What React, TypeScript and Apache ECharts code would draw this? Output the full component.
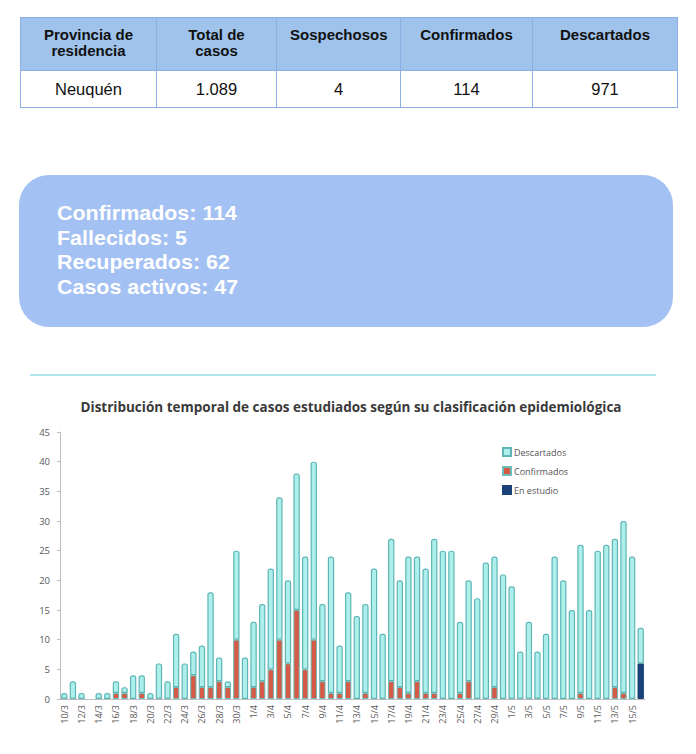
import React, { useEffect, useRef } from "react";
import * as echarts from "echarts";

const tableHeaders = ["Provincia de residencia", "Total de casos", "Sospechosos", "Confirmados", "Descartados"];
const tableRow = ["Neuquén", "1.089", "4", "114", "971"];
const summaryLines = ["Confirmados: 114", "Fallecidos: 5", "Recuperados: 62", "Casos activos: 47"];

const dates = [
  "10/3","11/3","12/3","13/3","14/3","15/3","16/3","17/3","18/3","19/3","20/3","21/3","22/3","23/3","24/3","25/3","26/3","27/3","28/3","29/3","30/3","31/3",
  "1/4","2/4","3/4","4/4","5/4","6/4","7/4","8/4","9/4","10/4","11/4","12/4","13/4","14/4","15/4","16/4","17/4","18/4","19/4","20/4","21/4","22/4","23/4","24/4","25/4","26/4","27/4","28/4","29/4","30/4",
  "1/5","2/5","3/5","4/5","5/5","6/5","7/5","8/5","9/5","10/5","11/5","12/5","13/5","14/5","15/5","16/5"
];
// totals per day (top of each bar)
const totals = [
  1,3,1,0,1,1,3,2,4,4,1,6,3,11,6,8,9,18,7,3,25,7,
  13,16,22,34,20,38,24,40,16,24,9,18,14,16,22,11,27,20,24,24,22,27,25,25,13,20,17,23,24,21,
  19,8,13,8,11,24,20,15,26,15,25,26,27,30,24,12
];
const confirmados = [
  0,0,0,0,0,0,1,1,0,1,0,0,0,2,0,4,2,2,3,2,10,0,
  2,3,5,10,6,15,5,10,3,1,1,3,0,1,0,0,3,2,1,3,1,1,0,0,1,3,0,0,2,0,
  0,0,0,0,0,0,0,0,1,0,0,0,2,1,0,0
];
const enEstudio = [
  0,0,0,0,0,0,0,0,0,0,0,0,0,0,0,0,0,0,0,0,0,0,
  0,0,0,0,0,0,0,0,0,0,0,0,0,0,0,0,0,0,0,0,0,0,0,0,0,0,0,0,0,0,
  0,0,0,0,0,0,0,0,0,0,0,0,0,0,0,6
];
const descartados = totals.map((t, i) => t - confirmados[i] - enEstudio[i]);
const yTicks = { min: 0, max: 45, interval: 5 };

const hideZero = (arr: number[]) => arr.map((v) => (v === 0 ? "-" : v));

const ChartPart: React.FC = () => {
  const ref = useRef<HTMLDivElement>(null);
  useEffect(() => {
    if (!ref.current) return;
    const chart = echarts.init(ref.current, undefined, { renderer: "svg" });
    chart.setOption({
      animation: false,
      backgroundColor: "transparent",
      title: {
        text: "Distribución temporal de casos estudiados según su clasificación epidemiológica",
        left: 346,
        textAlign: "center",
        top: 35,
        textStyle: { fontFamily: "Open Sans", fontWeight: "bold", fontSize: 13.5, color: "#3a3a3a" },
      },
      graphic: [
        {
          type: "line",
          shape: { x1: 30, y1: 15, x2: 656, y2: 15 },
          style: { stroke: "#aee4ea", lineWidth: 2 },
        },
      ],
      legend: {
        orient: "vertical",
        left: 497,
        top: 82,
        itemWidth: 8,
        itemHeight: 8,
        itemGap: 9,
        icon: "rect",
        data: ["Descartados", "Confirmados", "En estudio"],
        textStyle: { fontFamily: "Open Sans", fontSize: 9, color: "#555", padding: [0, 0, 0, -2] },
      },
      grid: { left: 60, right: 51, top: 72, bottom: 55 },
      xAxis: {
        type: "category",
        data: dates,
        axisLine: { lineStyle: { color: "#bfbfbf" } },
        axisTick: { show: false },
        axisLabel: { rotate: 90, interval: 1, fontSize: 9, color: "#595959", fontFamily: "Open Sans", margin: 6 },
      },
      yAxis: {
        type: "value",
        min: yTicks.min,
        max: yTicks.max,
        interval: yTicks.interval,
        axisLine: { show: true, lineStyle: { color: "#bfbfbf" } },
        axisTick: { show: true, length: 3, lineStyle: { color: "#bfbfbf" } },
        splitLine: { show: false },
        axisLabel: { fontSize: 9.5, color: "#595959", fontFamily: "Open Sans", margin: 10 },
      },
      series: [
        {
          name: "Confirmados",
          type: "bar",
          stack: "t",
          barWidth: "74%",
          data: hideZero(confirmados),
          itemStyle: { color: "#d65a45", borderColor: "#6bbdbb", borderWidth: 1 },
        },
        {
          name: "En estudio",
          type: "bar",
          stack: "t",
          data: hideZero(enEstudio),
          itemStyle: { color: "#1a4178", borderColor: "#1a4178", borderWidth: 1 },
        },
        {
          name: "Descartados",
          type: "bar",
          stack: "t",
          data: hideZero(descartados),
          itemStyle: { color: "#adf0eb", borderColor: "#5fb5b6", borderWidth: 1.2, borderRadius: [2, 2, 0, 0] },
        },
      ],
    });
    return () => chart.dispose();
  }, []);
  return <div ref={ref} style={{ position: "absolute", left: 0, top: 360, width: 696, height: 394 }} />;
};

const App: React.FC = () => {
  const colW = [136, 120, 124, 132, 145];
  const border = "1.5px solid #8eaee6";
  return (
    <div style={{ position: "absolute", left: 0, top: 0, width: 696, height: 754, background: "#fff", fontFamily: "'Liberation Sans', Arial, sans-serif", overflow: "hidden" }}>
      <table
        style={{ position: "absolute", left: 20, top: 17, width: 657, borderCollapse: "collapse", tableLayout: "fixed" }}
      >
        <colgroup>
          {colW.map((w, i) => (
            <col key={i} style={{ width: w }} />
          ))}
        </colgroup>
        <tbody>
          <tr style={{ height: 53 }}>
            {tableHeaders.map((h, i) => (
              <td
                key={i}
                style={{ border, background: "#9fc3ea", fontWeight: "bold", fontSize: 15, textAlign: "center", verticalAlign: "top", padding: "9px 13px 0 13px", lineHeight: "16px", color: "#111" }}
              >
                {h}
              </td>
            ))}
          </tr>
          <tr style={{ height: 37 }}>
            {tableRow.map((c, i) => (
              <td key={i} style={{ border, fontSize: 16.5, textAlign: "center", verticalAlign: "middle", padding: 0, color: "#111" }}>
                {c}
              </td>
            ))}
          </tr>
        </tbody>
      </table>
      <div
        style={{ position: "absolute", left: 19, top: 175, width: 654, height: 152, background: "#a3c1f2", borderRadius: 30 }}
      >
        <div style={{ position: "absolute", left: 38, top: 26, color: "#fff", fontWeight: "bold", fontSize: 19.5, lineHeight: "24.5px", transform: "scaleX(1.1)", transformOrigin: "left top" }}>
          {summaryLines.map((l, i) => (
            <div key={i}>{l}</div>
          ))}
        </div>
      </div>
      <ChartPart />
    </div>
  );
};

export default App;
